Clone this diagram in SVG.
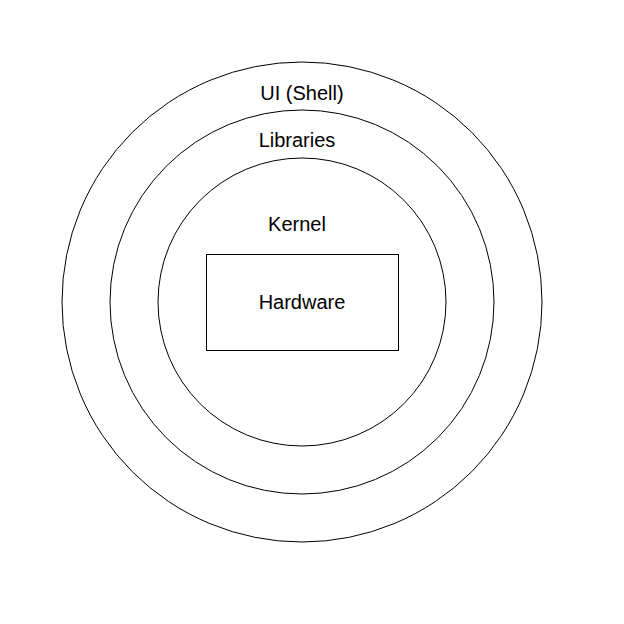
<svg xmlns="http://www.w3.org/2000/svg" width="624" height="624" viewBox="0 0 624 624">
<style>
.s{fill:none;stroke:#000;stroke-width:1}
text{font-family:"Liberation Sans",Arial,sans-serif;font-size:20px;text-anchor:middle;fill:#000}
</style>
<rect width="624" height="624" fill="#fff"/>
<g id="ui"><circle class="s" cx="302" cy="302" r="240"/><text x="302" y="100">UI (Shell)</text></g>
<g id="libraries"><circle class="s" cx="302" cy="302" r="192"/><text x="297" y="147">Libraries</text></g>
<g id="kernel"><circle class="s" cx="302" cy="302" r="144"/><text x="297" y="231">Kernel</text></g>
<g id="hardware"><rect class="s" x="206.5" y="254.5" width="192" height="96"/><text x="302" y="309">Hardware</text></g>
<g id="connectors"></g>
</svg>
